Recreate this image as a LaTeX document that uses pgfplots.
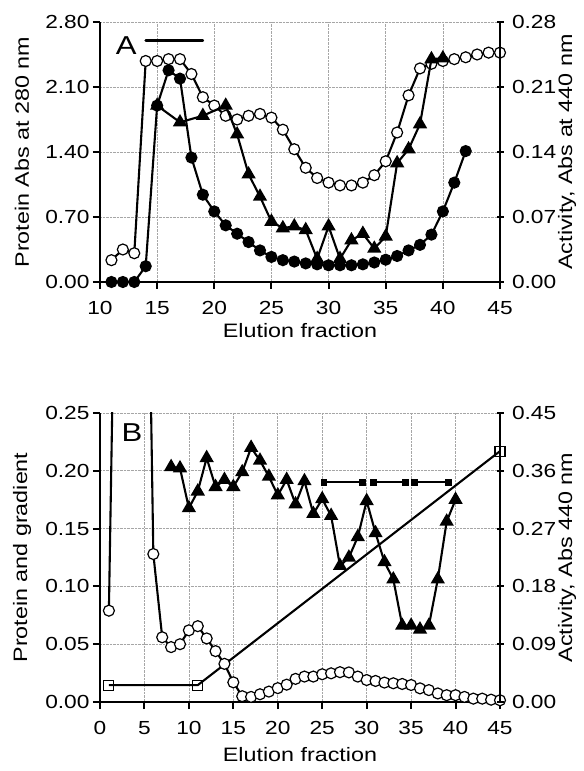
\documentclass[border=0pt]{standalone}
\usepackage{fontspec}
\setmainfont{Liberation Sans}[FakeStretch=1.2]
\usepackage{pgfplots}
\pgfplotsset{compat=1.18}
\pgfplotsset{
  common/.style={
    scale only axis, width=400bp, anchor=south west,
    /pgf/number format/assume math mode=true,
    tick label style={font=\fontsize{19}{22}\selectfont},
    label style={font=\fontsize{19.5}{22}\selectfont},
    axis line style={line width=2.4bp, black},
    major tick length=7bp,
    every tick/.style={line width=2bp, black},
    clip=true,
  },
  leftax/.style={common,
    axis x line*=bottom, axis y line*=left,
    tick align=outside,
    grid=major, grid style={densely dotted, gray!70, line width=0.6bp},
    xticklabel style={yshift=-9bp},
    yticklabel style={/pgf/number format/.cd, fixed, fixed zerofill, precision=2},
    xlabel style={at={(axis description cs:0.5,0)}, anchor=center, yshift=-49bp},
    ylabel style={at={(axis description cs:0,0.5)}, anchor=center, yshift=78bp},
  },
  rightax/.style={common,
    axis x line=none, axis y line*=right,
    tick align=center,
    yticklabel style={xshift=5bp, /pgf/number format/.cd, fixed, fixed zerofill, precision=2},
    ylabel style={at={(axis description cs:1,0.5)}, anchor=center, yshift=-67bp},
  },
  opencirc/.style={black, line width=2.1bp, mark=*, mark size=5.5bp, mark options={fill=white, draw=black, line width=1.2bp}},
  fillcirc/.style={black, line width=2.1bp, mark=*, mark size=5bp, mark options={fill=black, draw=black}},
  tri/.style={black, line width=2.1bp, mark=triangle*, mark size=6.2bp, mark options={fill=black, draw=black}},
  sq/.style={black, line width=2.1bp, mark=square, mark size=5bp, mark options={fill=white, draw=black, line width=1.2bp}},
}
\begin{document}
\begin{tikzpicture}
\path[use as bounding box] (0,0) rectangle (584bp,771bp);
% ---------------- Panel A ----------------
\begin{axis}[leftax, at={(100bp,489bp)}, height=260bp,
  xmin=10, xmax=45, ymin=0, ymax=2.8,
  xtick={10,15,20,25,30,35,40,45}, ytick={0,0.7,1.4,2.1,2.8},
  xlabel={Elution fraction}, ylabel={Protein Abs at 280 nm}]
\addplot[opencirc] coordinates {
(11,0.235) (12,0.35) (13,0.31) (14,2.38) (15,2.38) (16,2.40) (17,2.40) (18,2.24)
(19,1.99) (20,1.90) (21,1.79) (22,1.75) (23,1.79) (24,1.81) (25,1.77) (26,1.64)
(27,1.43) (28,1.23) (29,1.12) (30,1.07) (31,1.04) (32,1.04) (33,1.07) (34,1.15)
(35,1.30) (36,1.61) (37,2.01) (38,2.30) (39,2.35) (40,2.38) (41,2.40) (42,2.42)
(43,2.45) (44,2.47) (45,2.47)};
\addplot[fillcirc] coordinates {
(11,0) (12,0) (13,0) (14,0.17) (15,1.90) (16,2.28) (17,2.19) (18,1.34) (19,0.94)
(20,0.76) (21,0.61) (22,0.52) (23,0.43) (24,0.34) (25,0.27) (26,0.235) (27,0.22)
(28,0.20) (29,0.19) (30,0.18) (31,0.18) (32,0.18) (33,0.19) (34,0.21) (35,0.24)
(36,0.28) (37,0.34) (38,0.40) (39,0.51) (40,0.76) (41,1.07) (42,1.41)};
\addplot[black, line width=2.6bp, line cap=round, mark=none] coordinates {(14,2.60) (19,2.60)};
\node[font=\fontsize{26}{28}\selectfont, anchor=center] at (axis cs:12.3,2.55) {A};
\end{axis}
\begin{axis}[rightax, at={(100bp,489bp)}, height=260bp,
  xmin=10, xmax=45, ymin=0, ymax=0.28,
  ytick={0,0.07,0.14,0.21,0.28},
  ylabel={Activity, Abs at 440 nm}]
\addplot[tri] coordinates {
(15,0.190) (17,0.172) (19,0.179) (21,0.190) (22,0.159) (23,0.116) (24,0.092)
(25,0.065) (26,0.058) (27,0.060) (28,0.056) (29,0.025) (30,0.060) (31,0.025)
(32,0.045) (33,0.052) (34,0.036) (35,0.049) (36,0.128) (37,0.143) (38,0.170)
(39,0.240) (40,0.241)};
\end{axis}
% ---------------- Panel B ----------------
\begin{axis}[leftax, at={(100bp,69bp)}, height=289bp,
  xmin=0, xmax=45, ymin=0, ymax=0.25,
  xtick={0,5,10,15,20,25,30,35,40,45}, ytick={0,0.05,0.10,0.15,0.20,0.25},
  xlabel style={yshift=-4bp},
  xlabel={Elution fraction}, ylabel={Protein and gradient}]
\addplot[opencirc] coordinates {
(1,0.079) (2,0.54) (3,0.90) (4,0.85) (5,0.62) (6,0.128) (7,0.056) (8,0.0475)
(9,0.050) (10,0.062) (11,0.0656) (12,0.055) (13,0.044) (14,0.033) (15,0.017)
(16,0.005) (17,0.0044) (18,0.0067) (19,0.009) (20,0.012) (21,0.015) (22,0.020)
(23,0.022) (24,0.022) (25,0.024) (26,0.0248) (27,0.0258) (28,0.0256) (29,0.022)
(30,0.019) (31,0.0182) (32,0.0168) (33,0.0162) (34,0.0156) (35,0.0147) (36,0.0118)
(37,0.0103) (38,0.0074) (39,0.0059) (40,0.0059) (41,0.0044) (42,0.0029) (43,0.0029)
(44,0.002) (45,0.0015)};
\addplot[sq] coordinates {(1,0.0146) (11,0.0146) (45,0.217)};
\addplot[black, line width=2.2bp, mark=square*, mark size=2.2bp] coordinates {(25.2,0.19) (29.5,0.19)};
\addplot[black, line width=2.2bp, mark=square*, mark size=2.2bp] coordinates {(30.8,0.19) (34.4,0.19)};
\addplot[black, line width=2.2bp, mark=square*, mark size=2.2bp] coordinates {(35.4,0.19) (39.2,0.19)};
\node[font=\fontsize{26}{28}\selectfont, anchor=center] at (axis cs:3.6,0.233) {B};
\end{axis}
\begin{axis}[rightax, at={(100bp,69bp)}, height=289bp,
  xmin=0, xmax=45, ymin=0, ymax=0.45,
  ytick={0,0.09,0.18,0.27,0.36,0.45},
  ylabel={Activity, Abs 440 nm}]
\addplot[tri] coordinates {
(8,0.366) (9,0.364) (10,0.302) (11,0.328) (12,0.380) (13,0.335) (14,0.346)
(15,0.335) (16,0.358) (17,0.396) (18,0.376) (19,0.351) (20,0.322) (21,0.346)
(22,0.308) (23,0.344) (24,0.293) (25,0.316) (26,0.290) (27,0.212) (28,0.225)
(29,0.257) (30,0.313) (31,0.263) (32,0.218) (33,0.191) (34,0.119) (35,0.119)
(36,0.113) (37,0.119) (38,0.191) (39,0.281) (40,0.315)};
\end{axis}
\end{tikzpicture}
\end{document}
